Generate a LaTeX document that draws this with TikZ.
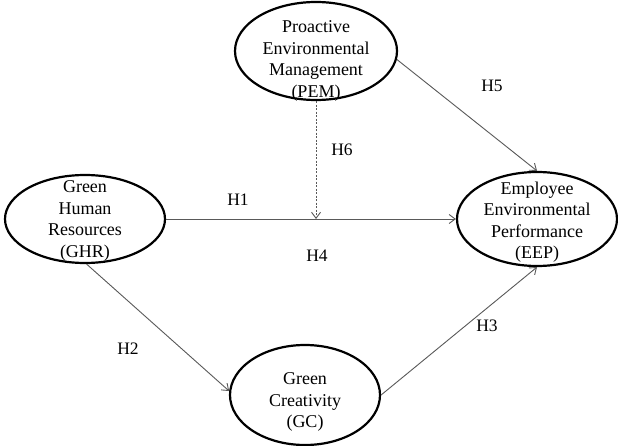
\documentclass[tikz,border=0pt]{standalone}
\usepackage{fontspec}
\setmainfont{Liberation Serif}
\usetikzlibrary{shapes.geometric,arrows.meta}
\begin{document}
\begin{tikzpicture}[x=1pt,y=-1pt,
 ell/.style={draw,ellipse,line width=2.2pt,inner sep=0pt},
 txt/.style={align=center,font=\fontsize{18}{21.5}\selectfont,inner sep=0pt},
 lab/.style={font=\fontsize{17.5}{20}\selectfont,inner sep=0pt},
 conn/.style={draw=black!65,line width=0.9pt,-{Straight Barb[length=6pt,width=9pt]}},
 dconn/.style={conn,dash pattern=on 2pt off 1.5pt}]
\useasboundingbox[fill=white] (0,0) rectangle (618,446);
% ellipses
\node[ell,minimum width=160pt,minimum height=88pt] (GHR) at (85,219) {};
\node[ell,minimum width=162pt,minimum height=98pt] (PEM) at (316,51) {};
\node[ell,minimum width=160pt,minimum height=94pt] (EEP) at (537,219) {};
\node[ell,minimum width=150pt,minimum height=100pt] (GC) at (305,395) {};
% texts
\node[txt] (tGHR) at (85,221) {Green\\Human\\Resources\\(GHR)};
\node[txt] (tPEM) at (316,61) {Proactive\\Environmental\\Management\\(PEM)};
\node[txt] (tEEP) at (537,222) {Employee\\Environmental\\Performance\\(EEP)};
\node[txt] (tGC) at (305,402) {Green\\Creativity\\(GC)};
% connectors
\coordinate (m) at (PEM.south |- GHR.east);
\draw[conn] (GHR.east) -- (EEP.west);
\draw[dconn] (PEM.south) -- (m);
\draw[conn] (PEM.-6) -- (EEP.north);
\draw[conn] (GHR.-88) -- (GC.177);
\draw[conn] (GC.east) -- (EEP.south);
% labels
\node[lab] (H1) at (238,200) {H1};
\node[lab] (H4) at (317,256) {H4};
\node[lab] (H5) at (492,86) {H5};
\node[lab] (H6) at (342,150) {H6};
\node[lab] (H2) at (128,349) {H2};
\node[lab] (H3) at (487,326) {H3};
\end{tikzpicture}
\end{document}
